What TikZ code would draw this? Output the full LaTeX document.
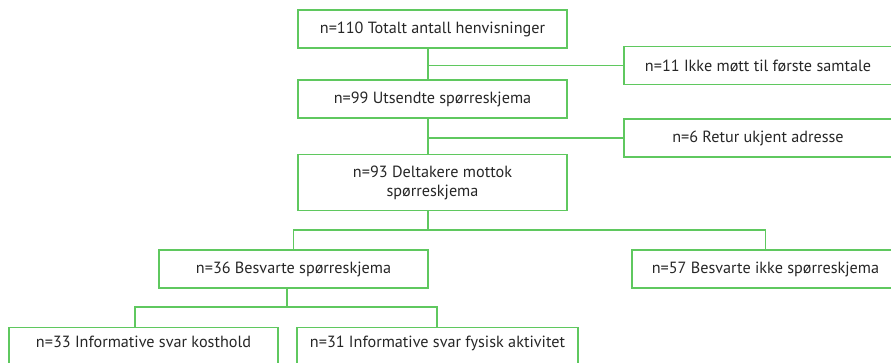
\documentclass[tikz,border=0pt]{standalone}
\usepackage{fontspec}
\setmainfont{PT Sans}
\definecolor{boxgreen}{RGB}{95,200,95}
\tikzset{
    box/.style={draw=boxgreen, line width=1.2pt, minimum height=38pt, inner sep=2pt,
        align=center, text=black!85, font=\fontsize{16.2}{19}\selectfont},
    link/.style={draw=boxgreen, line width=1.2pt}
}
\begin{document}
\begin{tikzpicture}[x=1pt,y=-1pt]
        \useasboundingbox (0,0) rectangle (891,363);
        % boxes
            \foreach \n/\x/\y/\w/\t in {tot/432.5/29/269/n=110 Totalt antall henvisninger,
                uts/432.5/99/269/n=99 Utsendte spørreskjema,
                ikke/758/65.5/268/n=11 Ikke møtt til første samtale,
                retur/758/138/268/n=6 Retur ukjent adresse,
                besv/293.5/269/269/n=36 Besvarte spørreskjema,
                ikkeb/765.5/269/267/n=57 Besvarte ikke spørreskjema}{
                \node[box, minimum width=\w pt] (\n) at (\x,\y) {\t};
            }
            \foreach \n/\x/\w/\t in {kost/143.5/269/n=33 Informative svar kosthold,
                fys/437.5/281/n=31 Informative svar fysisk aktivitet}{
                \node[box, minimum width=\w pt, text depth=10pt, anchor=north] (\n) at (\x,327) {\t};
            }
            \node[box, minimum width=269pt, minimum height=56pt, anchor=north] (delt) at (432.5,154)
                {n=93 Deltakere mottok\\spørreskjema};
        % trunk
            \coordinate (trunk) at (428,0);
            \draw[link] (tot.south-|trunk) -- (uts.north-|trunk);
            \draw[link] (uts.south-|trunk) -- (delt.north-|trunk);
            \draw[link] (ikke.west-|trunk) -- (ikke.west);
            \draw[link] (retur.west-|trunk) -- (retur.west);
        % splits
            \coordinate (mid) at (428,230);
            \draw[link] (delt.south-|mid) -- (mid);
            \draw[link] (besv.north) |- (mid) -| (ikkeb.north);
            \coordinate (low) at (287,307);
            \coordinate (lowl) at (135,307);
            \coordinate (lowr) at (437,307);
            \draw[link] (besv.south-|low) -- (low);
            \draw[link] (kost.north-|lowl) -- (lowl) -- (lowr) -- (fys.north-|lowr);
        \end{tikzpicture}
\end{document}
